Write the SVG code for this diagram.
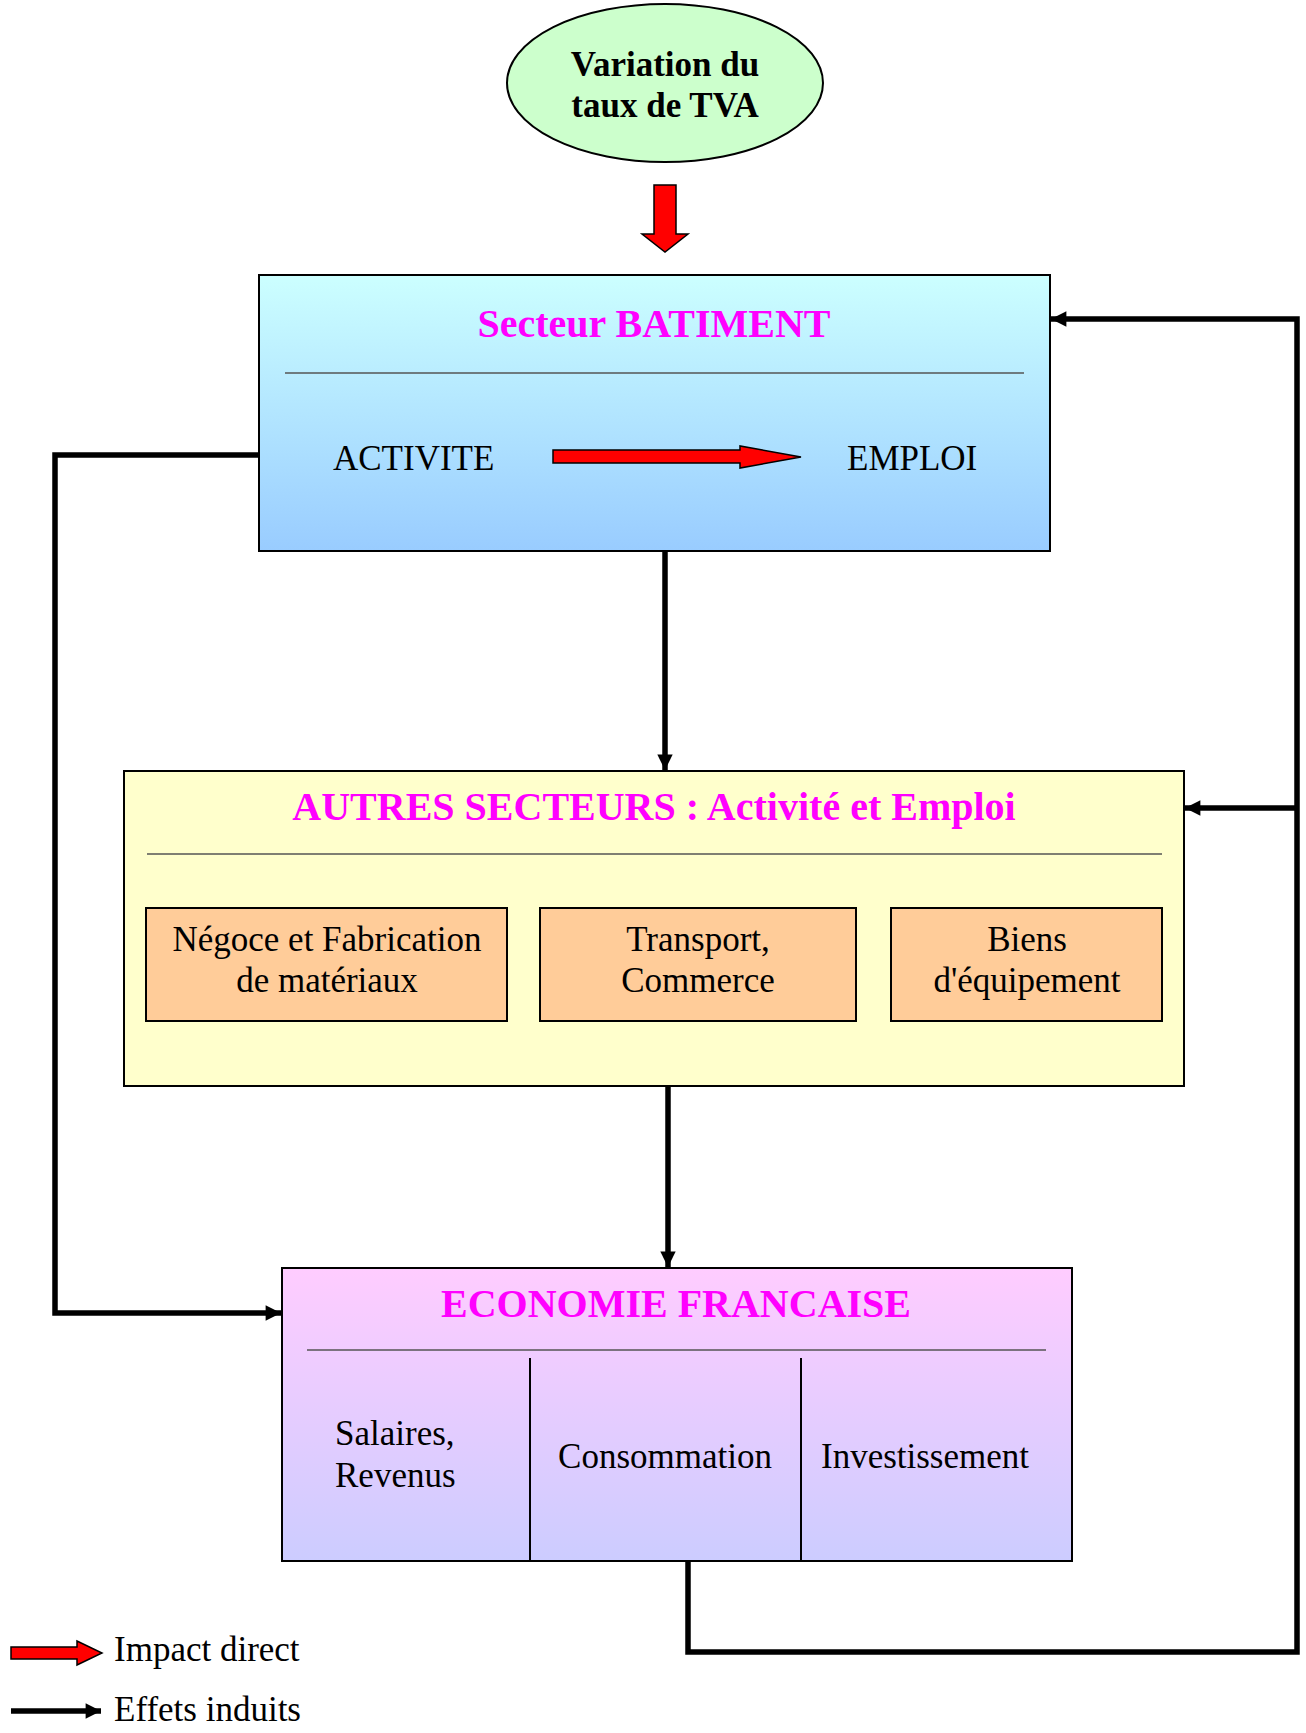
<svg xmlns="http://www.w3.org/2000/svg" width="1306" height="1733" viewBox="0 0 1306 1733">
<style>
.t{font-family:"Liberation Serif","Times New Roman",serif;fill:#000}
.b{font-weight:bold}
.m{fill:#FF00FF;font-weight:bold;font-size:40px}
.r{font-size:35px}
.box{stroke:#000;stroke-width:2}
.sep{stroke:#555;stroke-width:1.5}
.conn{fill:none;stroke:#000;stroke-width:5.5}
.red{fill:#FF0000;stroke:#000;stroke-width:1.5}
</style>
<defs>
<linearGradient id="gBlue" x1="0" y1="0" x2="0" y2="1"><stop offset="0" stop-color="#CCFFFF"/><stop offset="1" stop-color="#99CCFF"/></linearGradient>
<linearGradient id="gPink" x1="0" y1="0" x2="0" y2="1"><stop offset="0" stop-color="#FFCCFF"/><stop offset="1" stop-color="#CCCCFF"/></linearGradient>
<marker id="ah" viewBox="0 0 10 10" refX="10" refY="5" markerWidth="3.6" markerHeight="2.8" orient="auto" markerUnits="strokeWidth"><path d="M0,0 L10,5 L0,10 z" fill="#000"/></marker>
</defs>

<g id="tva">
<ellipse cx="665" cy="83" rx="158" ry="79" fill="#CCFFCC" stroke="#000" stroke-width="2"/>
<text class="t b" font-size="35" x="665" y="76" text-anchor="middle">Variation du</text>
<text class="t b" font-size="35" x="665" y="117" text-anchor="middle">taux de TVA</text>
</g>

<g id="arrow-tva">
<path class="red" d="M654,185 L676,185 L676,234 L688,234 L665,252 L642,234 L654,234 Z"/>
</g>

<g id="batiment">
<rect class="box" x="259" y="275" width="791" height="276" fill="url(#gBlue)"/>
<text class="t m" x="654" y="337" text-anchor="middle">Secteur BATIMENT</text>
<line class="sep" x1="285" y1="373" x2="1024" y2="373"/>
<text class="t r" x="333" y="470">ACTIVITE</text>
<path class="red" d="M553,450 L740,450 L740,446 L801,457 L740,468 L740,463 L553,463 Z"/>
<text class="t r" x="847" y="470">EMPLOI</text>
</g>

<g id="autres">
<rect class="box" x="124" y="771" width="1060" height="315" fill="#FFFFCC"/>
<text class="t m" x="654" y="820" text-anchor="middle">AUTRES SECTEURS : Activité et Emploi</text>
<line class="sep" x1="147" y1="854" x2="1162" y2="854"/>
<g id="negoce">
<rect class="box" x="146" y="908" width="361" height="113" fill="#FFCC99"/>
<text class="t r" x="327" y="951" text-anchor="middle">Négoce et Fabrication</text>
<text class="t r" x="327" y="992" text-anchor="middle">de matériaux</text>
</g>
<g id="transport">
<rect class="box" x="540" y="908" width="316" height="113" fill="#FFCC99"/>
<text class="t r" x="698" y="951" text-anchor="middle">Transport,</text>
<text class="t r" x="698" y="992" text-anchor="middle">Commerce</text>
</g>
<g id="biens">
<rect class="box" x="891" y="908" width="271" height="113" fill="#FFCC99"/>
<text class="t r" x="1027" y="951" text-anchor="middle">Biens</text>
<text class="t r" x="1027" y="992" text-anchor="middle">d'équipement</text>
</g>
</g>

<g id="economie">
<rect class="box" x="282" y="1268" width="790" height="293" fill="url(#gPink)"/>
<text class="t m" x="676" y="1317" text-anchor="middle">ECONOMIE FRANCAISE</text>
<line class="sep" x1="307" y1="1350" x2="1046" y2="1350"/>
<line x1="530" y1="1358" x2="530" y2="1561" stroke="#000" stroke-width="2"/>
<line x1="801" y1="1358" x2="801" y2="1561" stroke="#000" stroke-width="2"/>
<text class="t r" x="335" y="1445">Salaires,</text>
<text class="t r" x="335" y="1487">Revenus</text>
<text class="t r" x="665" y="1468" text-anchor="middle">Consommation</text>
<text class="t r" x="925" y="1468" text-anchor="middle">Investissement</text>
</g>

<g id="connectors">
<path class="conn" d="M665,552 L665,770" marker-end="url(#ah)"/>
<path class="conn" d="M668,1087 L668,1267" marker-end="url(#ah)"/>
<path class="conn" d="M258,455 L55,455 L55,1313 L281,1313" marker-end="url(#ah)"/>
<path class="conn" d="M688,1562 L688,1652 L1297,1652 L1297,319 L1051,319" marker-end="url(#ah)"/>
<path class="conn" d="M1297,808 L1185,808" marker-end="url(#ah)"/>
</g>

<g id="legend">
<path class="red" d="M11,1647 L77,1647 L77,1641 L102,1653 L77,1665 L77,1659 L11,1659 Z"/>
<text class="t r" x="114" y="1661">Impact direct</text>
<path class="conn" d="M11,1711 L101,1711" marker-end="url(#ah)"/>
<text class="t r" x="114" y="1721">Effets induits</text>
</g>
</svg>
